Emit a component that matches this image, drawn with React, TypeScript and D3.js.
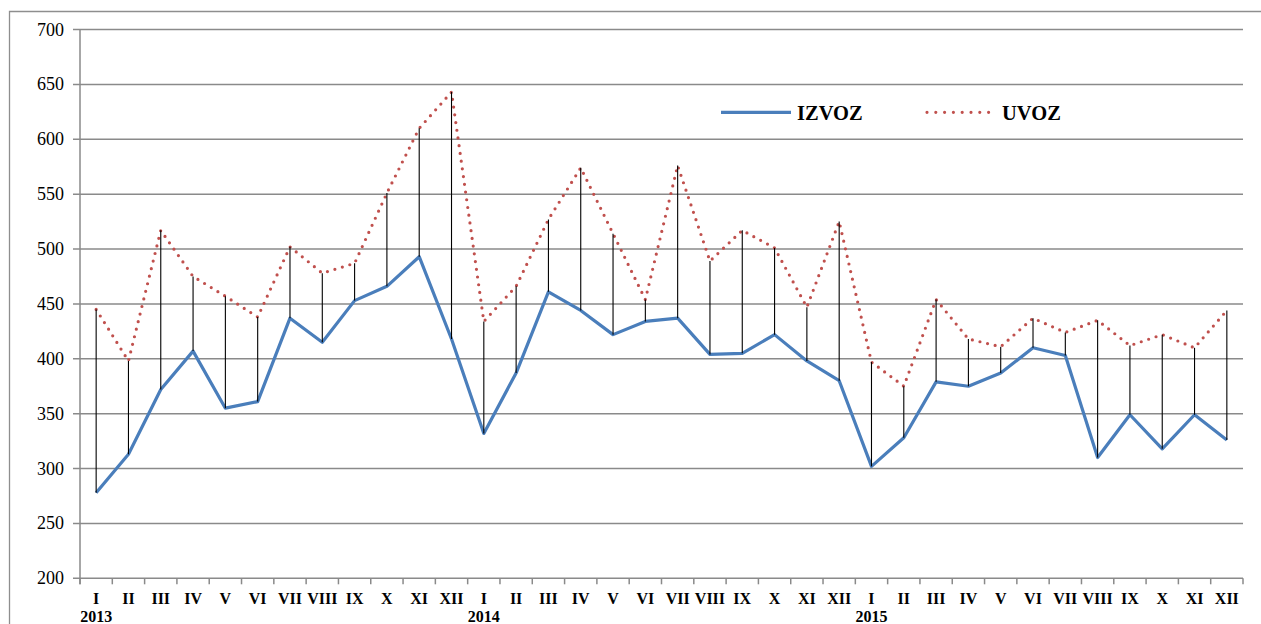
import React from "react";
import * as d3 from "d3";

const months = ["I", "II", "III", "IV", "V", "VI", "VII", "VIII", "IX", "X", "XI", "XII"];
const years = ["2013", "2014", "2015"];
const yTicks = [200, 250, 300, 350, 400, 450, 500, 550, 600, 650, 700];

const izvoz = [
  278, 313, 372, 407, 355, 361, 437, 415, 453, 466, 493, 418,
  332, 387, 461, 444, 422, 434, 437, 404, 405, 422, 398, 380,
  302, 328, 379, 375, 387, 410, 403, 310, 349, 318, 349, 326,
];
const uvoz = [
  445, 398, 517, 475, 457, 438, 502, 478, 487, 551, 610, 643,
  434, 466, 527, 574, 514, 454, 576, 489, 517, 501, 447, 525,
  397, 375, 454, 418, 411, 437, 424, 435, 412, 422, 410, 444,
];

const W = 1261;
const H = 624;
const left = 80;
const right = 1243;
const top = 29.5;
const bottom = 578.3;

const serifStyle = { fontFamily: '"Liberation Serif", "Times New Roman", Tinos, "DejaVu Serif", serif' };

export default function App() {
  const idx = d3.range(izvoz.length);
  const x = d3.scaleBand<number>().domain(idx).range([left, right]).padding(0);
  const y = d3.scaleLinear().domain([200, 700]).range([bottom, top]);
  const cx = (i: number) => (x(i) as number) + x.bandwidth() / 2;
  const line = d3
    .line<number>()
    .x((_, i) => cx(i))
    .y((d) => y(d));

  const gridColor = "#8a8a8a";

  return (
    <svg
      width={W}
      height={H}
      style={{ position: "absolute", left: 0, top: 0, background: "#fff" }}
    >
      <rect x={0} y={0} width={W} height={H} fill="#fff" />
      {/* outer chart border */}
      <path d={`M9.5,${H + 5} V11.5 H${W + 5}`} fill="none" stroke="#8e8e8e" strokeWidth={1.3} />

      {/* gridlines */}
      {yTicks.map((t) => (
        <line key={t} x1={left - 7} x2={right} y1={y(t)} y2={y(t)} stroke={gridColor} strokeWidth={1.5} />
      ))}
      {/* y axis line */}
      <line x1={left} x2={left} y1={top} y2={bottom + 6} stroke={gridColor} strokeWidth={1.5} />
      {/* x axis ticks at band boundaries */}
      {d3.range(izvoz.length + 1).map((i) => {
        const xx = left + i * x.bandwidth();
        return <line key={i} x1={xx} x2={xx} y1={bottom} y2={bottom + 6} stroke={gridColor} strokeWidth={1.5} />;
      })}

      {/* y labels */}
      {yTicks.map((t) => (
        <text key={t} x={64} y={y(t) + 6} textAnchor="end" fontSize={18} fill="#000" style={serifStyle}>
          {t}
        </text>
      ))}

      {/* x labels */}
      {idx.map((i) => (
        <text key={i} x={cx(i)} y={604} textAnchor="middle" fontSize={16} fontWeight="bold" fill="#000" style={serifStyle}>
          {months[i % 12]}
        </text>
      ))}
      {years.map((yr, k) => (
        <text key={yr} x={cx(k * 12)} y={622} textAnchor="middle" fontSize={16} fontWeight="bold" fill="#000" style={serifStyle}>
          {yr}
        </text>
      ))}

      {/* series */}
      <path d={line(uvoz) || ""} fill="none" stroke="#C0504D" strokeWidth={3.2} strokeDasharray="0 7.8" strokeLinecap="round" />
      <path d={line(izvoz) || ""} fill="none" stroke="#4A7EBB" strokeWidth={3.2} strokeLinejoin="round" />

      {/* high-low lines */}
      {idx.map((i) => (
        <line key={i} x1={cx(i)} x2={cx(i)} y1={y(uvoz[i])} y2={y(izvoz[i])} stroke="#000" strokeWidth={1.1} />
      ))}

      {/* legend */}
      <line x1={721} x2={791} y1={112.3} y2={112.3} stroke="#4A7EBB" strokeWidth={3.2} />
      <text x={797} y={119.5} fontSize={20.5} fontWeight="bold" fill="#000" style={serifStyle}>IZVOZ</text>
      <line x1={927} x2={989} y1={112.3} y2={112.3} stroke="#C0504D" strokeWidth={3.2} strokeDasharray="0 8.8" strokeLinecap="round" />
      <text x={1002} y={119.5} fontSize={20.5} fontWeight="bold" fill="#000" style={serifStyle}>UVOZ</text>
    </svg>
  );
}
